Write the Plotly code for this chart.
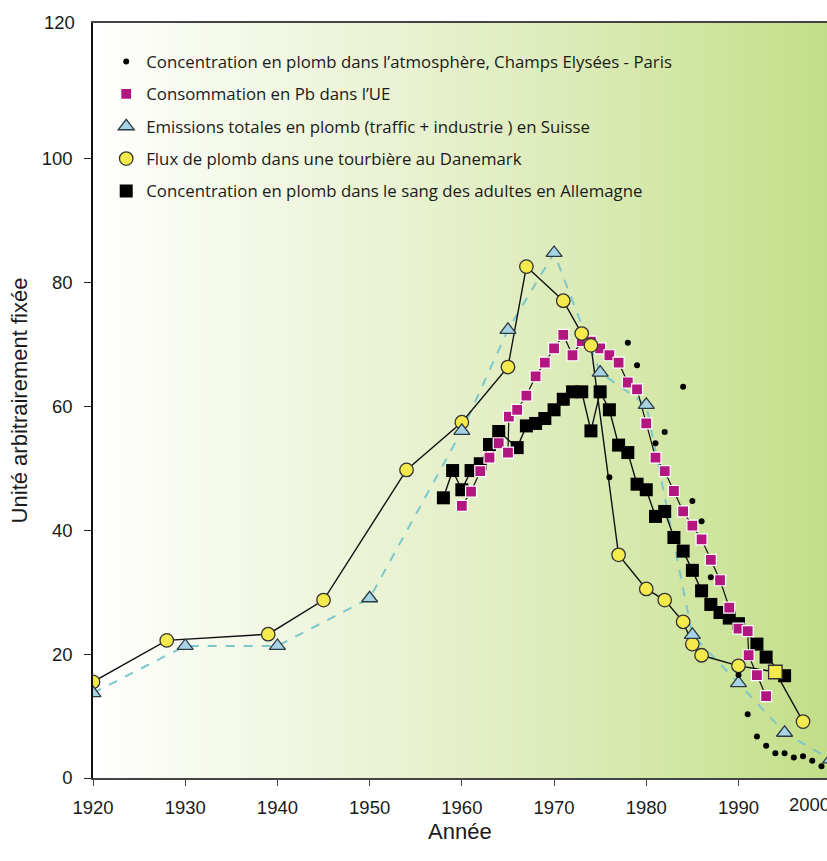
import numpy as np
import plotly.graph_objects as go

# --- Concentration en plomb dans l'atmosphère, Champs Elysées - Paris
paris_years = [1976, 1978, 1979, 1981, 1982, 1984, 1985, 1986, 1987, 1989, 1990,
               1991, 1992, 1993, 1994, 1995, 1996, 1997, 1998, 1999]
paris_vals = [48.5, 70.2, 66.6, 54.0, 55.8, 63.1, 44.7, 41.4, 32.4, 25.5, 16.6,
              10.3, 6.7, 5.2, 4.0, 4.0, 3.3, 3.5, 2.8, 1.9]

# --- Consommation en Pb dans l'UE
eu_years = [1960, 1961, 1962, 1963, 1964, 1965, 1965.1, 1966, 1967, 1968, 1969,
            1970, 1971, 1972, 1973, 1974, 1975, 1976, 1977, 1978, 1979, 1980,
            1981, 1982, 1983, 1984, 1985, 1986, 1987, 1988, 1989, 1990, 1991,
            1991.1, 1992, 1993]
eu_vals = [43.9, 46.2, 49.5, 51.7, 54.0, 52.5, 58.3, 59.4, 61.7, 64.8, 67.0,
           69.3, 71.5, 68.2, 70.5, 70.4, 69.3, 68.2, 67.0, 63.8, 62.7, 57.2,
           51.7, 49.5, 46.3, 43.0, 40.7, 38.5, 35.2, 31.9, 27.5, 24.1, 23.7,
           19.8, 16.6, 13.2]

# --- Emissions totales en plomb (traffic + industrie) en Suisse
ch_years = [1920, 1930, 1940, 1950, 1960, 1965, 1970, 1975, 1980, 1985, 1990, 1995, 2000]
ch_vals = [13.7, 21.3, 21.3, 29.0, 56.0, 72.3, 84.7, 65.4, 60.2, 23.1, 15.3, 7.3, 3.0]

# --- Flux de plomb dans une tourbière au Danemark
dk_years = [1920, 1928, 1939, 1945, 1954, 1960, 1965, 1967, 1971, 1973, 1974,
            1977, 1980, 1982, 1984, 1985, 1986, 1990, 1994, 1997]
dk_vals = [15.5, 22.2, 23.2, 28.7, 49.7, 57.4, 66.3, 82.5, 77.0, 71.7, 69.8,
           36.0, 30.5, 28.7, 25.2, 21.6, 19.8, 18.1, 17.1, 9.1]
dk_symbols = ["square" if y == 1994 else "circle" for y in dk_years]

# --- Concentration en plomb dans le sang des adultes en Allemagne
de_years = [1958, 1959, 1960, 1961, 1962, 1963, 1964, 1966, 1967, 1968, 1969,
            1970, 1971, 1972, 1973, 1974, 1975, 1976, 1977, 1978, 1979, 1980,
            1981, 1982, 1983, 1984, 1985, 1986, 1987, 1988, 1989, 1990, 1992,
            1993, 1995]
de_vals = [45.2, 49.6, 46.5, 49.6, 50.7, 53.8, 55.9, 53.3, 56.8, 57.2, 58.0,
           59.4, 61.1, 62.3, 62.3, 56.0, 62.3, 59.4, 53.7, 52.5, 47.4, 46.5,
           42.2, 43.0, 38.8, 36.6, 33.5, 30.2, 28.0, 26.7, 25.8, 24.9, 21.6,
           19.5, 16.5]

x_ticks = [1920, 1930, 1940, 1950, 1960, 1970, 1980, 1990]
x_last_label = "2000"
y_ticks = [0, 20, 40, 60, 80, 100]
y_top_label = "120"

X_MIN, X_MAX = 1920, 1999.6
Y_MIN, Y_MAX = 0, 121.8

# background colour ramp (white -> light green), left to right
ramp_pos = [0.0, 0.12, 0.35, 0.55, 0.75, 1.0]
ramp_col = ["#ffffff", "#f8fbf0", "#ecf4d8", "#e2eec4", "#d5e8aa", "#c2de88"]

LEG_FONT = dict(family="Open Sans, sans-serif", size=16.8, color="#1a1a1a")
AX_FONT = dict(family="Liberation Sans, Arial, sans-serif", size=18.5, color="#1a1a1a")
TITLE_FONT = dict(family="Liberation Sans, Arial, sans-serif", size=22, color="#1a1a1a")

fig = go.Figure()

bg_x = np.linspace(X_MIN - 2, X_MAX + 2, 90)
fig.add_trace(go.Heatmap(
    x=bg_x, y=[Y_MIN - 2, Y_MAX + 2], z=[bg_x, bg_x],
    zmin=X_MIN, zmax=X_MAX + 0.4,
    colorscale=[[p, c] for p, c in zip(ramp_pos, ramp_col)],
    zsmooth="best", showscale=False, hoverinfo="skip", showlegend=False,
))

# Swiss emissions: dashed cyan line + triangles
fig.add_trace(go.Scatter(
    x=ch_years, y=ch_vals, mode="lines", legendgroup="ch", showlegend=False,
    line=dict(color="#7cc7cc", width=2, dash="dash"), hoverinfo="skip",
))

# Danish peat flux: black line + yellow circles
fig.add_trace(go.Scatter(
    x=dk_years, y=dk_vals, mode="lines", legendgroup="dk", showlegend=False,
    line=dict(color="#111111", width=1.4), hoverinfo="skip",
))

# German blood lead: black line + black squares
fig.add_trace(go.Scatter(
    x=de_years, y=de_vals, mode="lines", legendgroup="de", showlegend=False,
    line=dict(color="#111111", width=1.4), hoverinfo="skip",
))

# EU consumption: black line + magenta squares
fig.add_trace(go.Scatter(
    x=eu_years, y=eu_vals, mode="lines", legendgroup="eu", showlegend=False,
    line=dict(color="#111111", width=1.2), hoverinfo="skip",
))

fig.add_trace(go.Scatter(
    x=de_years, y=de_vals, mode="markers", legendgroup="de",
    name="Concentration en plomb dans le sang des adultes en Allemagne",
    marker=dict(symbol="square", size=13, color="#000000", line=dict(width=0)),
    legendrank=5,
))

fig.add_trace(go.Scatter(
    x=eu_years, y=eu_vals, mode="markers", legendgroup="eu",
    name="Consommation en Pb dans l’UE",
    marker=dict(symbol="square", size=11, color="#b3177f",
                line=dict(color="#ffffff", width=1.2)),
    legendrank=2,
))

fig.add_trace(go.Scatter(
    x=dk_years, y=dk_vals, mode="markers", legendgroup="dk",
    name="Flux de plomb dans une tourbière au Danemark",
    marker=dict(symbol=dk_symbols, size=13.5, color="#f4ea4b",
                line=dict(color="#333333", width=1.3)),
    legendrank=4,
))

fig.add_trace(go.Scatter(
    x=ch_years, y=ch_vals, mode="markers", legendgroup="ch",
    name="Emissions totales en plomb (traffic + industrie ) en Suisse",
    marker=dict(symbol="triangle-up", size=14, color="#a7d3e6",
                line=dict(color="#2d3a40", width=1.3)),
    legendrank=3,
))

fig.add_trace(go.Scatter(
    x=paris_years, y=paris_vals, mode="markers", legendgroup="paris",
    name="Concentration en plomb dans l’atmosphère, Champs Elysées - Paris",
    marker=dict(symbol="circle", size=6, color="#000000"),
    legendrank=1,
))

PLOT_L, PLOT_T, PLOT_B = 93, 23, 83
W, H = 827, 861
PLOT_W = W - PLOT_L

fig.update_layout(
    width=W, height=H,
    margin=dict(l=PLOT_L, r=0, t=PLOT_T, b=PLOT_B, pad=0),
    paper_bgcolor="#ffffff",
    plot_bgcolor="#ffffff",
    showlegend=True,
    legend=dict(
        x=0.018, y=0.972, xanchor="left", yanchor="top",
        bgcolor="rgba(0,0,0,0)", font=LEG_FONT,
        tracegroupgap=7.5, itemsizing="trace",
    ),
    xaxis=dict(
        range=[X_MIN, X_MAX], tickvals=x_ticks, ticks="outside", ticklen=6,
        tickcolor="#444444", showline=True, linecolor="#444444", linewidth=1.5,
        mirror=True, showgrid=False, zeroline=False, tickfont=AX_FONT,
        ticklabelstandoff=6,
    ),
    yaxis=dict(
        range=[Y_MIN, Y_MAX], tickvals=y_ticks, ticks="outside", ticklen=7,
        tickcolor="#222222", showline=True, linecolor="#111111", linewidth=1.5,
        showgrid=False, zeroline=False, tickfont=AX_FONT, ticklabelstandoff=8,
        title=dict(text="Unité arbitrairement fixée", font=TITLE_FONT, standoff=8),
    ),
)

# x-axis title, under the year labels
fig.add_annotation(
    xref="paper", yref="paper", x=0.5, y=0, text="Année",
    showarrow=False, xanchor="center", yanchor="middle", yshift=-53,
    font=TITLE_FONT,
)
# top value label sits beside the frame corner, without a tick
fig.add_annotation(
    xref="paper", yref="paper", x=0, y=1, text=y_top_label,
    showarrow=False, xanchor="right", yanchor="middle", xshift=-16, yshift=1,
    font=AX_FONT,
)
# last decade label, pushed in against the right edge
fig.add_annotation(
    xref="paper", yref="paper", x=(787 - PLOT_L) / PLOT_W, y=0,
    text=x_last_label, showarrow=False, xanchor="left", yanchor="top",
    yshift=-14, font=AX_FONT,
)

fig.write_html("out.html")
